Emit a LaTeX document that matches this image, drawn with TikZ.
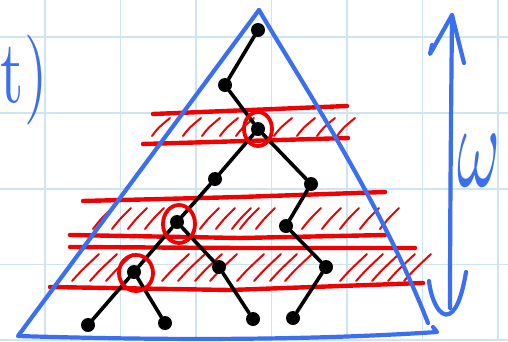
\documentclass[tikz,border=0pt]{standalone}
\usepackage{graphicx}
\definecolor{gridc}{RGB}{204,228,244}
\definecolor{penblue}{RGB}{58,112,240}
\definecolor{penred}{RGB}{240,0,0}
\tikzset{
  gridline/.style={draw=gridc, line width=1.8pt},
  bandline/.style={draw=penred, line width=4.4pt, line cap=round},
  hatch/.style={draw=penred, line width=2pt, line cap=round},
  blueline/.style={draw=penblue, line width=4.2pt, line cap=round, line join=round},
  tnode/.style={circle, fill=black, inner sep=0pt, minimum size=14pt},
  tedge/.style={draw=black, line width=3.6pt, line cap=round},
  ring/.style={draw=penred, line width=3.8pt},
}
\begin{document}
\begin{tikzpicture}[x=1pt,y=-1pt]
\useasboundingbox (0,0) rectangle (508,341);
\fill[white] (0,0) rectangle (508,341);
% grid
\foreach \gx in {45,120.5,196,271.5,347,422.5,498} \draw[gridline] (\gx,0) -- (\gx,341);
\foreach \gy in {37,113,189,264.5,340} \draw[gridline] (0,\gy) -- (508,\gy);

% red bands
\draw[bandline] (153,114) -- (347,106);
\draw[bandline] (143,144) -- (348,138);
\foreach \hx in {152,183,202,220,236,274,297,317,337}
  \draw[hatch] (\hx,136) .. controls (\hx+6,128) .. (\hx+18,118);

\draw[bandline] (83,201) -- (240,197) -- (385,192);
\draw[bandline] (70,235) -- (240,238) -- (385,235);
\foreach \hx in {93,112,128,145,200,216,232,240,256,302,322,340,360,380}
  \draw[hatch] (\hx,229) .. controls (\hx+7,220) .. (\hx+19,208);

\draw[bandline] (70,247) -- (240,248) -- (415,248);
\draw[bandline] (50,287) -- (230,290) -- (423,283);
\foreach \hx in {72,90,106,162,178,195,210,237,254,270,285,340,356,372,388,404}
  \draw[hatch] (\hx,281) .. controls (\hx+10,270) .. (\hx+27,254);

% triangle
\coordinate (apex) at (259,10);
\coordinate (bl) at (18,336);
\coordinate (br) at (437,332);
\coordinate (rs) at (428,323);
\draw[blueline] (apex) -- (bl) .. controls (150,340) and (300,341) .. (br) -- (433,327);
\draw[blueline] (apex) .. controls (300,80) and (380,200) .. (rs);

% tree
\node[tnode] (n1) at (258,30) {};
\node[tnode] (n2) at (225,85) {};
\node[tnode] (n3) at (258,129) {};
\node[tnode] (n4) at (215,179) {};
\node[tnode] (n5) at (311,184) {};
\node[tnode] (n6) at (177,222) {};
\node[tnode] (n7) at (286,226) {};
\node[tnode] (n8) at (134,272) {};
\node[tnode] (n9) at (219,267) {};
\node[tnode] (n10) at (326,267) {};
\node[tnode] (n11) at (88,325) {};
\node[tnode] (n12) at (165,323) {};
\node[tnode] (n13) at (253,319) {};
\node[tnode] (n14) at (293,318) {};
\draw[tedge] (n1) -- (n2);
\draw[tedge] (n2) -- (n3);
\draw[tedge] (n3) -- (n4);
\draw[tedge] (n3) -- (n5);
\draw[tedge] (n4) -- (n6);
\draw[tedge] (n6) -- (n8);
\draw[tedge] (n6) -- (n9);
\draw[tedge] (n5) -- (n7);
\draw[tedge] (n7) -- (n10);
\draw[tedge] (n8) -- (n11);
\draw[tedge] (n8) -- (n12);
\draw[tedge] (n9) -- (n13);
\draw[tedge] (n10) -- (n14);

% red rings
\draw[ring] (258,129) ellipse (14pt and 17pt);
\draw[ring] (179,224) ellipse (16pt and 19pt);
\draw[ring] (136,273) ellipse (17pt and 18pt);

% omega double arrow
\coordinate (wtop) at (452,15);
\coordinate (wbot) at (450,308);
\draw[blueline] (wtop) .. controls (451,120) and (450,220) .. (wbot);
\draw[blueline] (432,45) -- (430,54) -- (wtop) -- (464,63);
\draw[blueline] (429,281) .. controls (431,300) and (440,318) .. (449,314)
  .. controls (458,310) and (463,290) .. (466,272);

% labels
\node[anchor=base west, inner sep=0pt, text=penblue] (tlab) at (0.5,102) {\scalebox{6}[9]{t)}};
\node[inner sep=0pt, text=penblue] (wlab) at (479,161) {\scalebox{6.5}[12]{$\omega$}};
\end{tikzpicture}
\end{document}
